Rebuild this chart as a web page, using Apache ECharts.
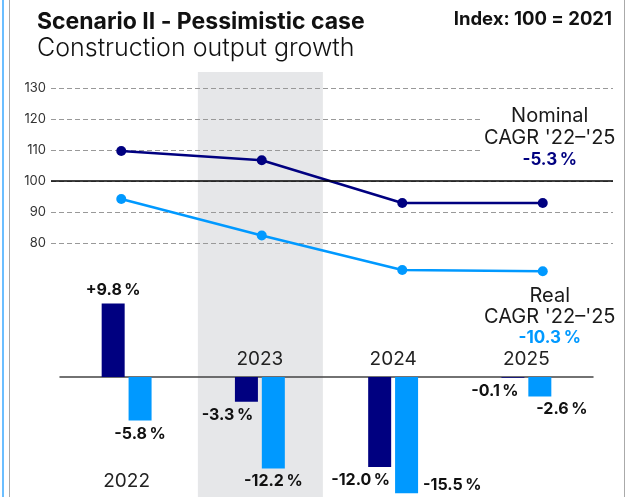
<!DOCTYPE html>
<html>
<head>
<meta charset="utf-8">
<script src="https://cdn.jsdelivr.net/npm/echarts@6/dist/echarts.min.js"></script>
<style>
  html, body { margin: 0; padding: 0; background: #fff; }
  #chart { width: 635px; height: 497px; }
</style>
</head>
<body>
<div id="chart"></div>
<script>
  // data
  const years = ['2022', '2023', '2024', '2025'];
  const indexTicks = [80, 90, 100, 110, 120, 130];
  const nominalIndex = [109.7, 106.7, 92.9, 92.9];
  const realIndex = [94.2, 82.4, 71.3, 70.9];
  const nominalGrowth = [9.8, -3.3, -12.0, -0.1];
  const realGrowth = [-5.8, -12.2, -15.5, -2.6];
  const nominalCagr = -5.3;
  const realCagr = -10.3;
  const baseIndex = 100;
  const shadedYear = '2023';

  const NAVY = '#000080';
  const BLUE = '#0099ff';
  const FONT = 'Inter';

  // where each bar label sits (position, offset)
  const nominalLabelPos = [['top', [0, 0]], ['bottom', [-19, 0]], ['bottom', [-19, 0]], ['bottom', [-18, 0]]];
  const realLabelPos = [['bottom', [0, 1]], ['bottom', [0, 0]], ['right', [0, 50]], ['bottom', [22, 0]]];

  function pct(v) {
    return (v > 0 ? '+' : '') + v.toFixed(1) + '\u2009%';
  }

  function barData(vals, pos) {
    return vals.map(function (v, i) {
      return { value: v, label: { position: pos[i][0], offset: pos[i][1] } };
    });
  }

  function cagrLabel(name, value, color, position, distance, lh, bg) {
    return {
      show: true,
      position: position,
      distance: distance,
      offset: [7, 0],
      backgroundColor: bg,
      padding: [0, 2],
      formatter: '{t|' + name + '}\n{t|CAGR \'22–\'25}\n{v|' + pct(value) + '}',
      rich: {
        t: { fontFamily: FONT, fontSize: 20, lineHeight: lh, color: '#1a1a1a', align: 'center' },
        v: { fontFamily: FONT, fontSize: 17, fontWeight: 'bold', lineHeight: lh, color: color, align: 'center' }
      }
    };
  }

  function lineData(vals, label) {
    return vals.map(function (v, i) {
      return i === vals.length - 1 ? { value: v, label: label } : v;
    });
  }

  let chart = echarts.init(document.getElementById('chart'));

  let option = {
    animation: false,
    title: [{
      text: 'Scenario II - Pessimistic case',
      left: 37, top: 11, padding: 0,
      textStyle: { fontFamily: FONT, fontSize: 23, fontWeight: 'bold', color: '#111' }
    }, {
      text: 'Construction output growth',
      left: 37, top: 36, padding: 0,
      textStyle: { fontFamily: FONT, fontSize: 25, fontWeight: 300, color: '#111' }
    }, {
      text: 'Index: 100 = 2021',
      right: 23, top: 10, padding: 0,
      textStyle: { fontFamily: FONT, fontSize: 18.5, fontWeight: 'bold', color: '#111' }
    }],
    grid: [
      { left: 51, right: 22, top: 88, height: 155, outerBoundsMode: 'none' },
      { left: 60, right: 42, top: 302, height: 195, outerBoundsMode: 'none' }
    ],
    xAxis: [{
      gridIndex: 0, type: 'category', data: years, show: false
    }, {
      gridIndex: 1, type: 'category', data: years,
      axisLine: { onZero: true, lineStyle: { color: '#444', width: 1.5 } },
      axisTick: { show: false },
      axisLabel: {
        interval: 0,
        margin: -147,
        formatter: function (v, i) {
          return nominalGrowth[i] > 0 ? '{low|' + v + '}' : '{high|' + v + '}';
        },
        rich: {
          low: { fontFamily: FONT, fontSize: 19, color: '#222', padding: [122, 0, 0, 0] },
          high: { fontFamily: FONT, fontSize: 19, color: '#222' }
        }
      }
    }],
    yAxis: [{
      gridIndex: 0, type: 'value',
      min: indexTicks[0], max: indexTicks[indexTicks.length - 1], interval: 10,
      axisLine: { show: false },
      axisTick: { show: false },
      axisLabel: { margin: 5, fontFamily: FONT, fontSize: 13, color: '#333' },
      splitLine: { lineStyle: { type: [5, 3], color: '#999', width: 1 } }
    }, {
      gridIndex: 1, type: 'value', min: -16, max: 10, show: false
    }],
    series: [{
      name: 'Nominal',
      type: 'line',
      xAxisIndex: 0, yAxisIndex: 0,
      clip: false,
      symbol: 'circle', symbolSize: 10,
      itemStyle: { color: NAVY },
      lineStyle: { color: NAVY, width: 2.5 },
      data: lineData(nominalIndex, cagrLabel('Nominal', nominalCagr, NAVY, 'top', 27, 22, '#fff')),
      markLine: {
        silent: true, symbol: 'none',
        label: { show: false },
        lineStyle: { color: '#000', width: 1.5, type: 'solid' },
        data: [{ yAxis: baseIndex }]
      }
    }, {
      name: 'Real',
      type: 'line',
      xAxisIndex: 0, yAxisIndex: 0,
      clip: false,
      symbol: 'circle', symbolSize: 10,
      itemStyle: { color: BLUE },
      lineStyle: { color: BLUE, width: 2.5 },
      data: lineData(realIndex, cagrLabel('Real', realCagr, BLUE, 'bottom', 9, 21, 'transparent'))
    }, {
      name: 'Nominal growth',
      type: 'bar',
      xAxisIndex: 1, yAxisIndex: 1,
      barWidth: 23, barGap: '17%',
      itemStyle: { color: NAVY },
      label: { show: true, distance: 5, fontFamily: FONT, fontSize: 16, fontWeight: 'bold', color: '#111',
        formatter: function (p) { return pct(p.value); } },
      data: barData(nominalGrowth, nominalLabelPos)
    }, {
      name: 'Real growth',
      type: 'bar',
      xAxisIndex: 1, yAxisIndex: 1,
      barWidth: 23, barGap: '17%',
      itemStyle: { color: BLUE },
      label: { show: true, distance: 5, fontFamily: FONT, fontSize: 16, fontWeight: 'bold', color: '#111',
        formatter: function (p) { return pct(p.value); } },
      data: barData(realGrowth, realLabelPos)
    }]
  };
  chart.setOption(option);

  // shaded column behind 2023 + slide frame lines
  let cx = chart.convertToPixel({ xAxisIndex: 1 }, shadedYear);
  chart.setOption({
    graphic: [
      { type: 'rect', z: -10, shape: { x: cx - 62, y: 72, width: 125, height: 425 }, style: { fill: '#e6e7e9' } },
      { type: 'line', shape: { x1: 3, y1: 0, x2: 3, y2: 497 }, style: { stroke: '#3aa8ff', lineWidth: 1.5 } },
      { type: 'line', shape: { x1: 9.5, y1: 0, x2: 9.5, y2: 497 }, style: { stroke: '#aaa', lineWidth: 1 } },
      { type: 'line', shape: { x1: 624.5, y1: 0, x2: 624.5, y2: 497 }, style: { stroke: '#aaa', lineWidth: 1 } }
    ]
  });

  window.addEventListener('resize', function () {
    chart.resize();
  });
</script>
</body>
</html>
